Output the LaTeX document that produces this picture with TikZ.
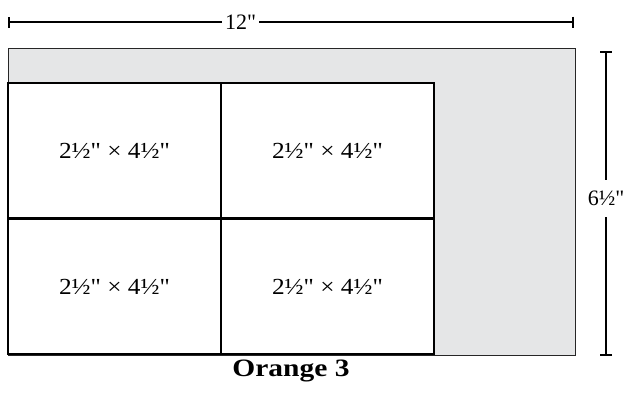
\documentclass[tikz,border=0pt]{standalone}
\usepackage{fontspec}
\setmainfont{Liberation Serif}
\newfontfamily\cellfont[FakeStretch=1.1]{Liberation Serif}
\newfontfamily\dimfont{Liberation Serif}
\newfontfamily\titlefont[FakeStretch=1.18]{Liberation Serif}
\usetikzlibrary{arrows.meta}
\definecolor{panelgray}{HTML}{E5E6E7}
\tikzset{
  outerbox/.style={draw=black!85, line width=1.2pt, fill=panelgray, minimum width=567.5pt, minimum height=307pt, inner sep=0pt, anchor=north west},
  cellbox/.style={draw=black, line width=1.1pt, fill=white, minimum width=213pt, minimum height=135pt, inner sep=0pt, font=\cellfont\fontsize{23}{27}\selectfont},
  dimline/.style={draw=black, line width=2pt},
  dimlabel/.style={font=\dimfont\fontsize{22}{26}\selectfont, inner sep=0pt},
  titletext/.style={font=\titlefont\bfseries\fontsize{25}{29}\selectfont, inner sep=0pt}
}
\begin{document}
\begin{tikzpicture}[x=1pt, y=-1pt]
\useasboundingbox (0,0) rectangle (628,394);
% outer gray panel
\node[outerbox] (panel) at (7.5,48) {};
% cells
\node[cellbox] (c11) at (114.5,150.5) {2½" × 4½"};
\node[cellbox] (c12) at (327.5,150.5) {2½" × 4½"};
\node[cellbox] (c21) at (114.5,286.5) {2½" × 4½"};
\node[cellbox] (c22) at (327.5,286.5) {2½" × 4½"};
% horizontal dimension
\coordinate (hl) at (8,22);
\coordinate (hr) at (574,22);
\node[dimlabel, minimum width=37pt] (hlab) at (240.5,22) {12"};
\draw[dimline, {Bar[width=11pt,line width=2pt]}-] (hl) -- (hlab.west);
\draw[dimline, -{Bar[width=11pt,line width=2pt]}] (hlab.east) -- (hr);
% vertical dimension
\coordinate (vt) at (606,51);
\coordinate (vb) at (606,356);
\node[dimlabel, minimum height=37pt] (vlab) at (606,198.5) {6½"};
\draw[dimline, {Bar[width=12pt,line width=2pt]}-] (vt) -- (vlab.north);
\draw[dimline, -{Bar[width=12pt,line width=2pt]}] (vlab.south) -- (vb);
% title
\node[titletext] (title) at (291,371) {Orange 3};
\end{tikzpicture}
\end{document}
